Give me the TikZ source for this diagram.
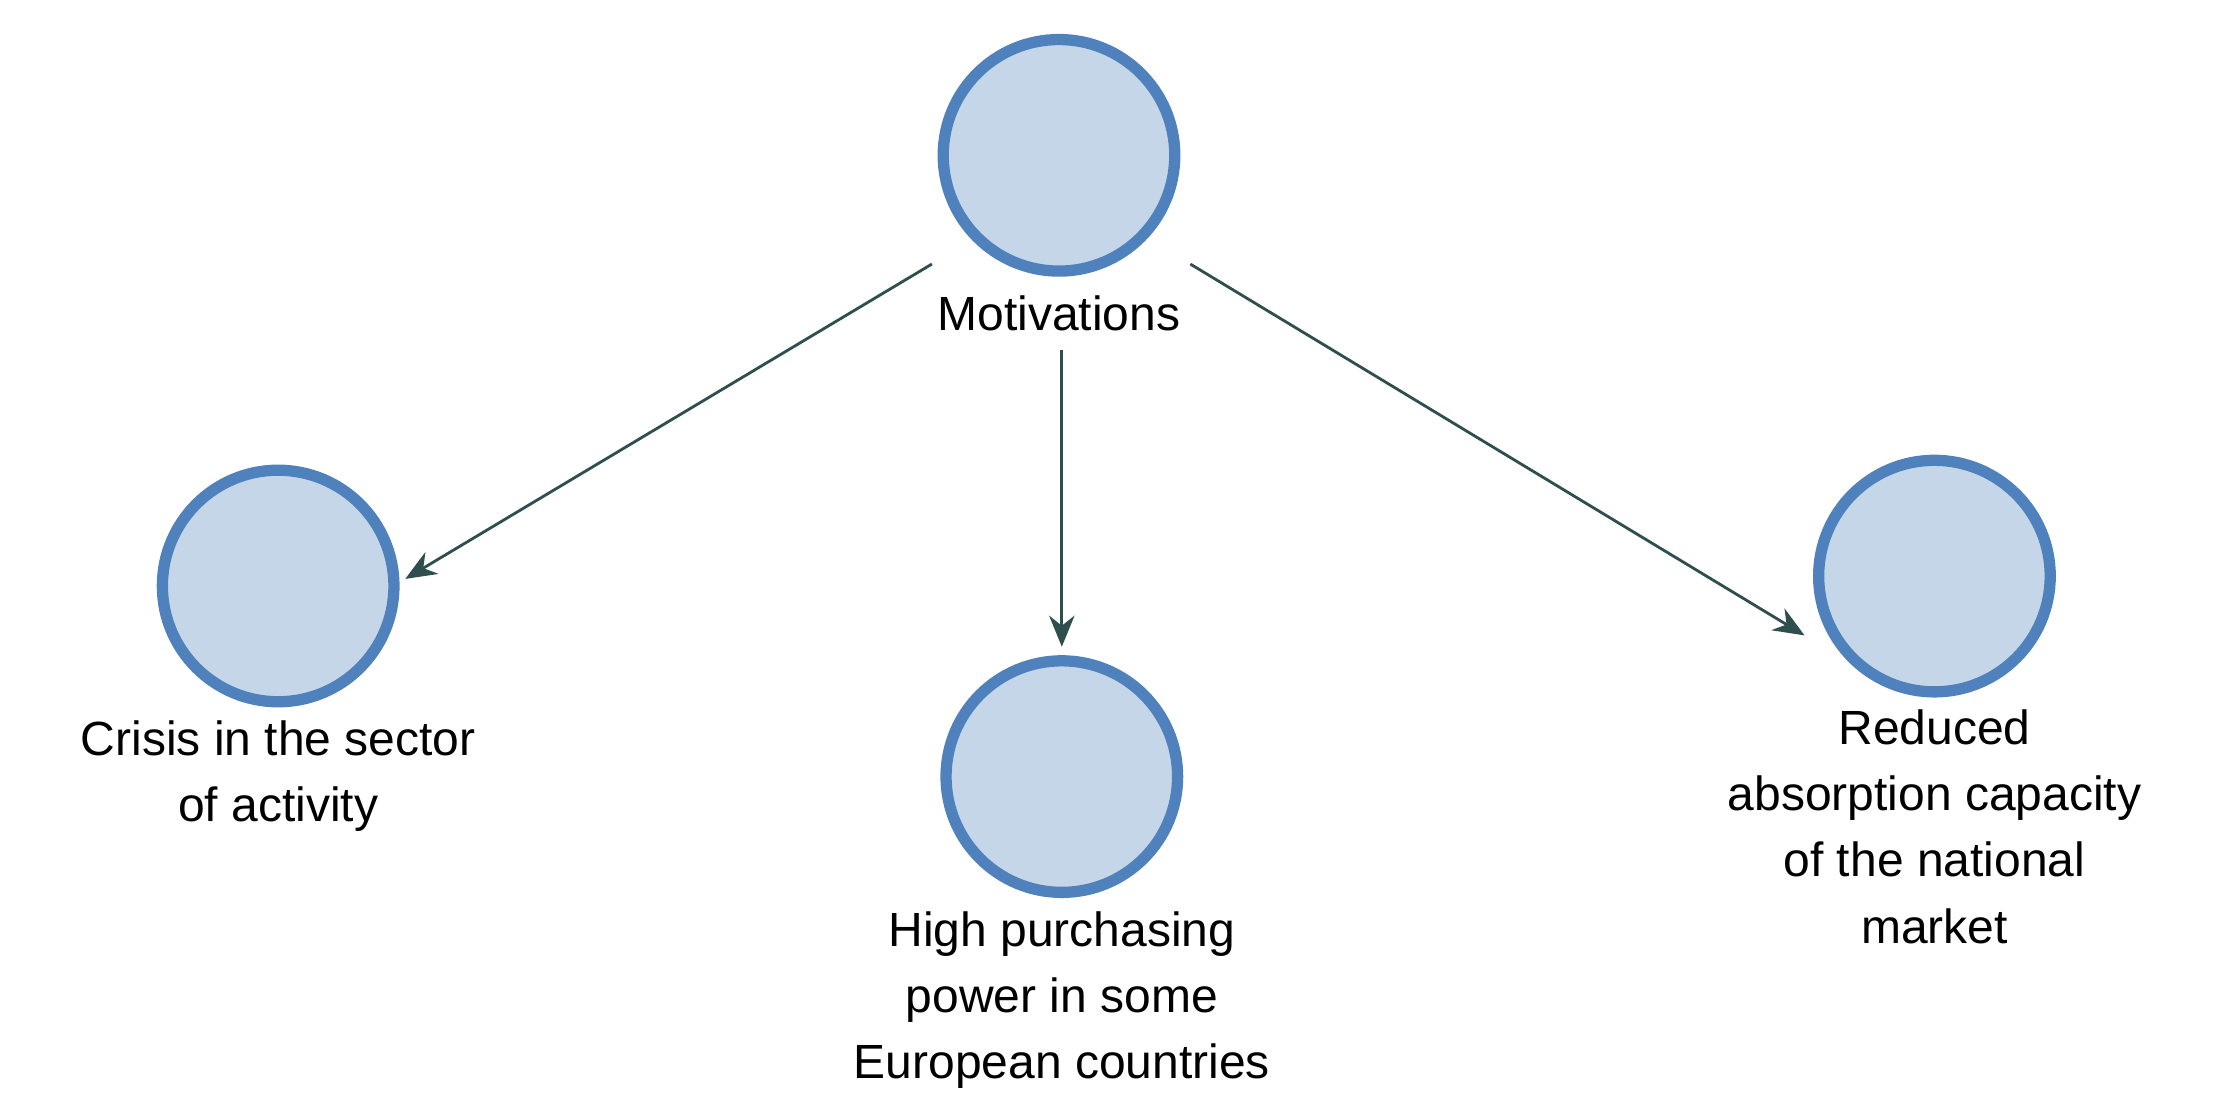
\documentclass[tikz,border=0pt]{standalone}
\usepackage{fontspec}
\setmainfont{Liberation Sans}
\usetikzlibrary{arrows.meta}
\definecolor{ring}{RGB}{79,129,189}
\definecolor{disc}{RGB}{198,214,233}
\definecolor{arr}{RGB}{47,79,79}
\begin{document}
\begin{tikzpicture}[x=0.5pt,y=-0.5pt,
  circ/.style={circle,draw=ring,fill=disc,line width=4pt,minimum size=82pt,inner sep=0pt},
  lbl/.style={font=\fontsize{17}{23.5}\selectfont,align=center,inner sep=0pt},
  conn/.style={draw=arr,line width=1pt,-{Stealth[length=11pt,width=9pt]}}]
\useasboundingbox (0,0) rectangle (1568,792);
\node[circ] (m) at (750,110) {};
\node[circ] (c) at (197,415) {};
\node[circ] (h) at (752,550) {};
\node[circ] (r) at (1370,408) {};
\node[lbl] (ml) at (750,222) {Motivations};
\node[lbl,anchor=north] (cl) at (197,510) {Crisis in the sector\\of activity};
\node[lbl,anchor=north] (hl) at (752,645) {High purchasing\\power in some\\European countries};
\node[lbl,anchor=north] (rl) at (1370,502) {Reduced\\absorption capacity\\of the national\\market};
\coordinate (a1) at (660,187); \coordinate (b1) at (287,410);
\coordinate (a2) at (752,248); \coordinate (b2) at (752,458);
\coordinate (a3) at (843,187); \coordinate (b3) at (1278,450);
\draw[conn] (a1) -- (b1);
\draw[conn] (a2) -- (b2);
\draw[conn] (a3) -- (b3);
\end{tikzpicture}
\end{document}
